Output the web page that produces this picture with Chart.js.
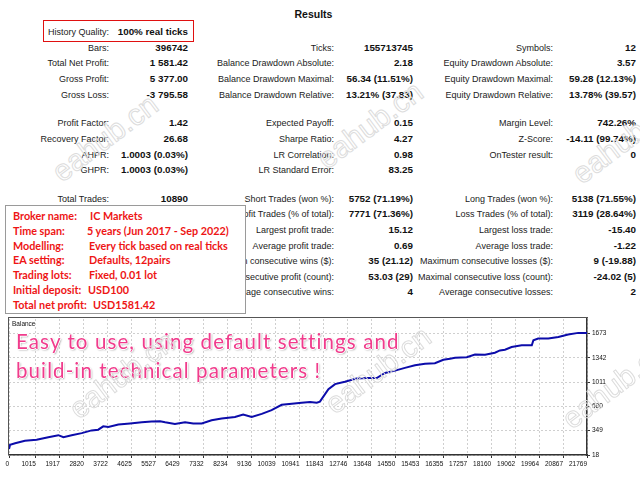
<!DOCTYPE html>
<html>
<head>
<meta charset="utf-8">
<script src="https://cdn.jsdelivr.net/npm/chart.js@4.4.0/dist/chart.umd.min.js"></script>
<style>
  html, body { margin: 0; padding: 0; background: #fff; }
  #page { position: relative; width: 640px; height: 480px; overflow: hidden; background: #fff; }
  .t { position: absolute; white-space: nowrap; height: 12px; line-height: 12px; font-family: "Liberation Sans", Arial, sans-serif; }
  .lab { font-size: 9px; color: #222; text-align: right; }
  .val { font-size: 9.8px; font-weight: bold; color: #111; text-align: right; }
  #title { position: absolute; left: 0; width: 627px; top: 8px; text-align: center; font: bold 10.5px "Liberation Sans", Arial, sans-serif; color: #111; }
  #hq { position: absolute; left: 43px; top: 20px; width: 149px; height: 20px; border: 1px solid #e01010; }
  #info { position: absolute; left: 5px; top: 205px; width: 239px; height: 107px; border: 1px solid #9a9a9a; background: #fff; }
  .inf { position: absolute; white-space: nowrap; font: bold 10.8px Lato, "Liberation Sans", sans-serif; color: #ee1515; line-height: 14px; }
  #frame { position: absolute; left: 8px; top: 317px; width: 579px; height: 137px; border-top: 1px solid #555; border-left: 1px solid #555; pointer-events: none; }
  #ballab { position: absolute; left: 12px; top: 320px; font: 6.5px "Liberation Sans", Arial, sans-serif; color: #111; }
  .pink { position: absolute; left: 16px; white-space: nowrap; font: 20.5px Lato, "Open Sans", sans-serif; letter-spacing: 1.1px; color: #f03c8c;
          text-shadow: -1px 0 #fff, 1px 0 #fff, 0 1px #fff, 0 -1px #fff, 1px 1px 2px #888; }
  .wm { position: absolute; white-space: nowrap; font: 30px "Liberation Sans", Arial, sans-serif; color: transparent;
        -webkit-text-stroke: 1px #dcdcdc; transform: translate(-50%, -50%) rotate(-37deg); pointer-events: none; }
  #c { position: absolute; left: 0; top: 309px; }
</style>
</head>
<body>
<div id="page">
  <div id="title">Results</div>
  <div id="hq"></div>
  <canvas id="c" width="640" height="171"></canvas>
  <div id="frame"></div>
  <div id="ballab">Balance</div>
  <div class="pink" style="top:329px">Easy to use, using default settings and</div>
  <div class="pink" style="top:358px">build-in technical parameters !</div>
</div>
<script>
// balance curve (deal number -> balance)
const deals = [0, 40, 230, 600, 1040, 1480, 1860, 2050, 2360, 2740, 3110, 3360, 3550, 3740, 4120,
  4560, 5000, 5370, 5690, 5880, 6250, 6630, 6940, 7260, 7630, 8010, 8510, 8820, 9140, 9520,
  9890, 10270, 10650, 11020, 11340, 11590, 11710, 12030, 12280, 12650, 13090, 13470, 13850, 14160, 14540,
  14910, 15290, 15670, 16040, 16360, 16610, 16800, 17240, 17550, 17930, 18300, 18490, 18680, 18930, 19310,
  19690, 19750, 19930, 20310, 20690, 21060, 21440, 21769];
const balance = [100, 156, 178, 211, 225, 261, 288, 261, 288, 316, 353, 363, 408, 398, 432,
  446, 463, 473, 477, 463, 440, 463, 446, 446, 491, 515, 536, 570, 536, 578,
  629, 702, 716, 730, 739, 730, 744, 914, 983, 1015, 1060, 1066, 1066, 1135, 1167,
  1204, 1240, 1259, 1267, 1314, 1328, 1342, 1350, 1387, 1383, 1411, 1442, 1452, 1488, 1511,
  1511, 1580, 1604, 1604, 1626, 1660, 1681, 1681];

const xTicks = [0, 1015, 1917, 2820, 3722, 4625, 5527, 6429, 7332, 8234, 9136, 10039, 10941, 11843,
  12746, 13648, 14550, 15453, 16355, 17257, 18160, 19062, 19964, 20867, 21769];
const yTicks = [18, 349, 680, 1011, 1342, 1673];

// report table
const rowY = [47.5, 63, 79, 95, 123, 139, 154.5, 170, 199, 214, 230, 246, 261, 277, 292];
const colA = [
  ["Bars:", "396742"], ["Total Net Profit:", "1 581.42"], ["Gross Profit:", "5 377.00"], ["Gross Loss:", "-3 795.58"],
  ["Profit Factor:", "1.42"], ["Recovery Factor:", "26.68"], ["AHPR:", "1.0003 (0.03%)"], ["GHPR:", "1.0003 (0.03%)"],
  ["Total Trades:", "10890"]
];
const colB = [
  ["Ticks:", "155713745"], ["Balance Drawdown Absolute:", "2.18"], ["Balance Drawdown Maximal:", "56.34 (11.51%)"],
  ["Balance Drawdown Relative:", "13.21% (37.83)"], ["Expected Payoff:", "0.15"], ["Sharpe Ratio:", "4.27"],
  ["LR Correlation:", "0.98"], ["LR Standard Error:", "83.25"], ["Short Trades (won %):", "5752 (71.19%)"],
  ["Profit Trades (% of total):", "7771 (71.36%)"], ["Largest profit trade:", "15.12"], ["Average profit trade:", "0.69"],
  ["Maximum consecutive wins ($):", "35 (21.12)"], ["Maximal consecutive profit (count):", "53.03 (29)"],
  ["Average consecutive wins:", "4"]
];
const colC = [
  ["Symbols:", "12"], ["Equity Drawdown Absolute:", "3.57"], ["Equity Drawdown Maximal:", "59.28 (12.13%)"],
  ["Equity Drawdown Relative:", "13.78% (39.57)"], ["Margin Level:", "742.26%"], ["Z-Score:", "-14.11 (99.74%)"],
  ["OnTester result:", "0"], null, ["Long Trades (won %):", "5138 (71.55%)"], ["Loss Trades (% of total):", "3119 (28.64%)"],
  ["Largest loss trade:", "-15.40"], ["Average loss trade:", "-1.22"], ["Maximum consecutive losses ($):", "9 (-19.88)"],
  ["Maximal consecutive loss (count):", "-24.02 (5)"], ["Average consecutive losses:", "2"]
];
const infoRows = [
  ["Broker name:", "IC Markets"], ["Time span:", "5 years (Jun 2017 - Sep 2022)"],
  ["Modelling:", "Every tick based on real ticks"], ["EA setting:", "Defaults, 12pairs"],
  ["Trading lots:", "Fixed, 0.01 lot"], ["Initial deposit:", "USD100"], ["Total net profit:", "USD1581.42"]
];
const infoY = [216, 231, 246, 260, 275, 290, 305];
const infoValX = [89, 86, 88, 88, 88, 87, 92];

const page = document.getElementById("page");

function put(text, cls, rightEdge, y) {
  const d = document.createElement("div");
  d.className = "t " + cls;
  d.textContent = text;
  d.style.right = (640 - rightEdge) + "px";
  d.style.top = (y - 6) + "px";
  page.insertBefore(d, document.getElementById("c"));
}

put("History Quality:", "lab", 109, 32);
put("100% real ticks", "val", 188, 32);

[[colA, 109, 188], [colB, 334, 413], [colC, 553, 636]].forEach(([col, lx, vx]) => {
  col.forEach((row, i) => {
    if (!row) return;
    put(row[0], "lab", lx, rowY[i]);
    put(row[1], "val", vx, rowY[i]);
  });
});

// info box over the table
const info = document.createElement("div");
info.id = "info";
page.insertBefore(info, document.getElementById("c"));
infoRows.forEach((row, i) => {
  const a = document.createElement("div");
  a.className = "inf";
  a.textContent = row[0];
  a.style.left = "7px";
  a.style.top = (infoY[i] - 205 - 8) + "px";
  info.appendChild(a);
  const b = document.createElement("div");
  b.className = "inf";
  b.textContent = row[1];
  b.style.left = (infoValX[i] - 5) + "px";
  b.style.top = (infoY[i] - 205 - 8) + "px";
  info.appendChild(b);
});

// faint watermarks
[[105, 138], [370, 125], [625, 140], [122, 375], [378, 370], [615, 385]].forEach(([x, y]) => {
  const w = document.createElement("div");
  w.className = "wm";
  w.textContent = "eahub.cn";
  w.style.left = x + "px";
  w.style.top = y + "px";
  page.appendChild(w);
});

const gridOpts = { color: "#cfcfcf", lineWidth: 1, tickColor: "#333", tickLength: 3 };
const borderOpts = { display: true, color: "#333", width: 1.5, dash: [2, 2] };

new Chart(document.getElementById("c"), {
  type: "line",
  data: {
    datasets: [
      {
        label: "Balance",
        data: deals.map((d, i) => ({ x: d, y: balance[i] })),
        borderColor: "#0c0caa",
        borderWidth: 2,
        pointRadius: 0,
        tension: 0,
        fill: false,
      },
    ],
  },
  options: {
    responsive: false,
    animation: false,
    layout: { padding: { top: 10, left: 9, right: 0, bottom: 0 } },
    scales: {
      x: {
        type: "linear",
        min: 0,
        max: 21769,
        afterBuildTicks: (s) => { s.ticks = xTicks.map((v) => ({ value: v })); },
        afterFit: (s) => { s.height = 25; },
        grid: gridOpts,
        border: borderOpts,
        ticks: {
          autoSkip: false,
          maxRotation: 0,
          align: "end",
          padding: 2,
          color: "#111",
          font: { family: "Liberation Sans", size: 6.5 },
          callback: (v) => String(v),
        },
      },
      y: {
        type: "linear",
        position: "right",
        min: 18,
        max: 1870,
        afterBuildTicks: (s) => { s.ticks = yTicks.map((v) => ({ value: v })); },
        afterFit: (s) => { s.width = 53; },
        grid: gridOpts,
        border: borderOpts,
        ticks: {
          padding: 2,
          color: "#111",
          font: { family: "Liberation Sans", size: 6.5 },
          callback: (v) => String(v),
        },
      },
    },
    plugins: {
      legend: { display: false },
      tooltip: { enabled: false },
    },
  },
});
</script>
</body>
</html>
